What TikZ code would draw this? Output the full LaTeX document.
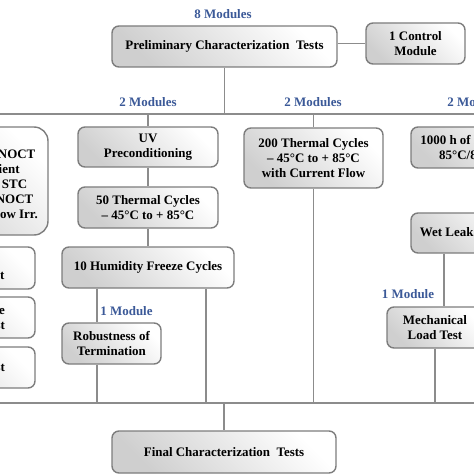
\documentclass[tikz,border=0pt]{standalone}
\usepackage{fontspec}
\setmainfont{Liberation Serif}
\definecolor{lbl}{RGB}{59,89,152}
\definecolor{lnc}{RGB}{140,140,140}
\definecolor{bdc}{RGB}{125,125,125}
\begin{document}
\begin{tikzpicture}[x=1bp,y=-1bp,
  box/.style={draw=bdc, line width=1.4bp, rounded corners=7bp,
    top color=white, bottom color=gray!38, shading angle=-45,
    font=\fontsize{13}{15}\selectfont\bfseries, align=center, inner sep=0pt},
  lab/.style={font=\fontsize{13}{15}\selectfont\bfseries, text=lbl, inner sep=0pt},
  conn/.style={draw=lnc, line width=1.4bp}]
\useasboundingbox (0,0) rectangle (474,474);
\clip (0,0) rectangle (474,474);
\fill[white] (0,0) rectangle (474,474);
% bus coordinates
\coordinate (b1L) at (-10,114);
\coordinate (b1R) at (560,114);
\coordinate (b2L) at (-10,403);
\coordinate (b2R) at (560,403);
\coordinate (xr) at (97,0);
\coordinate (xs) at (206,0);
\coordinate (xw) at (444,0);
% boxes
\node[box, minimum width=225bp, minimum height=41bp] (prelim) at (224.5,46.5) {Preliminary Characterization~ Tests};
\node[box, minimum width=99bp, minimum height=41bp] (control) at (415.5,43.5) {1 Control\\Module};
\node[box, minimum width=140bp, minimum height=40bp] (uv) at (148,147) {UV\\Preconditioning};
\node[box, minimum width=140bp, minimum height=41bp] (tc50) at (148,207.5) {50 Thermal Cycles\\– 45°C to + 85°C};
\node[box, minimum width=172bp, minimum height=41bp] (hf) at (148,267.5) {10 Humidity Freeze Cycles};
\node[box, minimum width=99bp, minimum height=41bp] (rob) at (111.5,343.5) {Robustness of\\Termination};
\node[box, minimum width=139bp, minimum height=60bp] (tc200) at (313.5,158) {200 Thermal Cycles\\– 45°C to + 85°C\\with Current Flow};
\node[box, minimum width=136bp, minimum height=41bp] (damp) at (479,147.5) {1000 h of Damp Heat\\85°C/85\% RH};
\node[box, minimum width=116bp, minimum height=40bp] (wet) at (469,233) {Wet Leakage Test};
\node[box, minimum width=96bp, minimum height=41bp] (mech) at (435,327.5) {Mechanical\\Load Test};
\node[box, minimum width=224bp, minimum height=42bp] (final) at (224,452) {Final Characterization~ Tests};
% left column (cut off)
\node[box, rounded corners=14bp, minimum width=156bp, minimum height=108bp] (l1) at (-30,181) {~\\Measurement of NOCT\\Temp. Coefficient\\Performance at STC\\Performance at NOCT\\Performance at Low Irr.};
\node[box, minimum width=148bp, minimum height=42bp] (l2) at (-39,268) {Hot-Spot\\Endurance Test};
\node[box, minimum width=150bp, minimum height=41bp, text width=90bp, align=right] (l3) at (-40,317.5) {Bypass Diode\\Thermal Test};
\node[box, minimum width=150bp, minimum height=41bp, text width=90bp, align=right] (l4) at (-40,367.5) {Insulation Test};
% labels
\node[lab] (m8) at (223,14) {8 Modules};
\node[lab] (m2a) at (148,102) {2 Modules};
\node[lab] (m2b) at (313,102) {2 Modules};
\node[lab] (m2c) at (476,102) {2 Modules};
\node[lab] (m1a) at (126.5,311) {1 Module};
\node[lab] (m1b) at (408,294) {1 Module};
% connectors
\draw[conn] (b1L) -- (b1R);
\draw[conn] (b2L) -- (b2R);
\draw[conn] (prelim) -- (prelim |- b1L);
\draw[conn] (prelim.east |- control) -- (control.west);
\draw[conn] (uv |- b1L) -- (uv);
\draw[conn] (uv) -- (tc50);
\draw[conn] (tc50) -- (hf);
\draw[conn] (tc200 |- b1L) -- (tc200);
\draw[conn] (tc200) -- (tc200 |- b2L);
\draw[conn] (damp |- b1L) -- (damp);
\draw[conn] (damp.south) -- (damp.south |- wet.north);
\draw[conn] (xw |- wet.south) -- (xw |- mech.north);
\draw[conn] (mech) -- (mech |- b2L);
\draw[conn] (xr |- hf.south) -- (xr |- rob.north);
\draw[conn] (xr |- rob.south) -- (xr |- b2L);
\draw[conn] (xs |- hf.south) -- (xs |- b2L);
\draw[conn] (final |- b2L) -- (final);
\end{tikzpicture}
\end{document}
